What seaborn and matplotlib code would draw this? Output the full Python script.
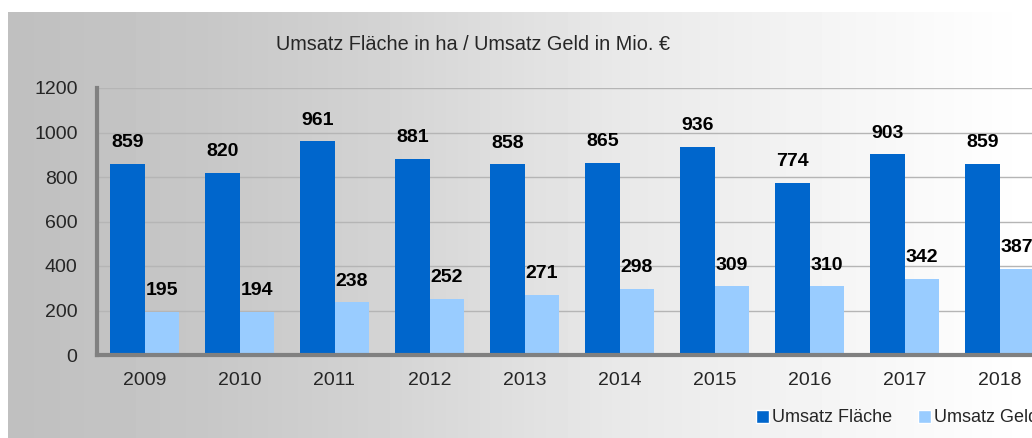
import numpy as np
import pandas as pd
import matplotlib
matplotlib.use("Agg")
import matplotlib.pyplot as plt
import seaborn as sns
from matplotlib.patches import Patch

# data
years = ["2009", "2010", "2011", "2012", "2013", "2014", "2015", "2016", "2017", "2018"]
flaeche = [859, 820, 961, 881, 858, 865, 936, 774, 903, 859]
geld = [195, 194, 238, 252, 271, 298, 309, 310, 342, 387]
series = ["Umsatz Fläche", "Umsatz Geld"]
colors = ["#0066CC", "#99CCFF"]

df = pd.DataFrame({
    "Jahr": years * 2,
    "Wert": flaeche + geld,
    "Reihe": [series[0]] * len(years) + [series[1]] * len(years),
})

sns.set_theme(style="white")
plt.rcParams["font.family"] = ["Liberation Sans", "DejaVu Sans"]

fig = plt.figure(figsize=(10.32, 4.38), dpi=100)
fig.patch.set_facecolor("white")

# grey-to-white gradient behind the chart area
bg = fig.add_axes([8 / 1032, 0, 1 - 8 / 1032, 1 - 12 / 438], zorder=0)
xs = np.linspace(0, 1, 512)
shade = np.interp(xs, [0, 0.19, 0.34, 0.59, 0.83, 1.0], [0.75, 0.78, 0.82, 0.91, 0.965, 1.0])
bg.imshow(np.tile(shade, (2, 1)), cmap="gray", vmin=0, vmax=1, aspect="auto", extent=[0, 1, 0, 1])
bg.set_axis_off()

ax = fig.add_axes([97 / 1032, 83 / 438, 950 / 1032, 267 / 438], zorder=1)
ax.patch.set_alpha(0)

sns.barplot(data=df, x="Jahr", y="Wert", hue="Reihe", palette=colors, width=0.72,
            saturation=1, linewidth=0, ax=ax, legend=False)

for cont in ax.containers:
    ax.bar_label(cont, padding=9, fontsize=14, fontweight="bold", color="black")

ax.set_ylim(0, 1200)
ax.set_yticks(range(0, 1201, 200))
ax.set_xlim(-0.5, 9.5)
ax.set_xlabel("")
ax.set_ylabel("")
ax.yaxis.grid(True, color="#b5b5b5", linewidth=1)
ax.set_axisbelow(True)
for s in ["top", "right"]:
    ax.spines[s].set_visible(False)
for s in ["left", "bottom"]:
    ax.spines[s].set_color("#808080")
    ax.spines[s].set_linewidth(3)
ax.tick_params(axis="y", length=0, pad=14, labelsize=14)
ax.tick_params(axis="x", length=0, pad=12, labelsize=14)

fig.text(473 / 1032, 1 - 45 / 438, "Umsatz Fläche in ha / Umsatz Geld in Mio. €",
         ha="center", va="center", fontsize=14.3)

handles = [Patch(facecolor=c, label=l) for c, l in zip(colors, series)]
fig.legend(handles=handles, loc="center left", bbox_to_anchor=(740 / 1032, 20 / 438),
           ncol=2, frameon=False, fontsize=13, handlelength=0.7, handleheight=0.7,
           handletextpad=0.2, columnspacing=1.4)

fig.savefig("out.png", dpi=100)
